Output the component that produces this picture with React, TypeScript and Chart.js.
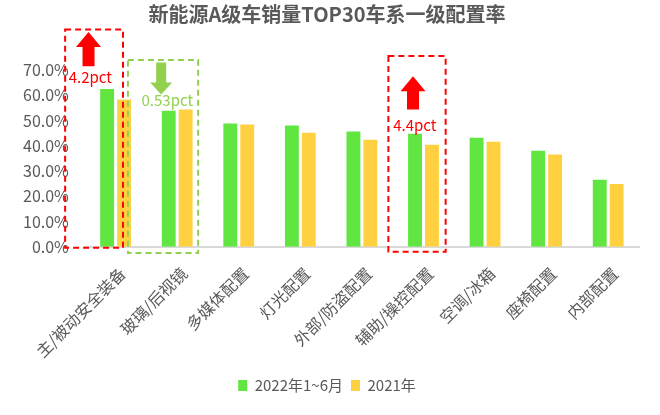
import { useEffect, useRef } from 'react';
import { Chart, registerables, Plugin } from 'chart.js';

Chart.register(...registerables);

// data (percent)
const categories = ['主/被动安全装备', '玻璃/后视镜', '多媒体配置', '灯光配置', '外部/防盗配置', '辅助/操控配置', '空调/冰箱', '座椅配置', '内部配置'];
const rate2022H1 = [62.5, 53.9, 48.8, 48.0, 45.6, 44.8, 43.2, 38.0, 26.5];
const rate2021 = [58.3, 54.4, 48.4, 45.2, 42.4, 40.4, 41.6, 36.5, 24.9];
const seriesNames = ['2022年1~6月', '2021年'];
const yTicks = [0, 10, 20, 30, 40, 50, 60, 70];

// call-outs
const changeLabels = ['4.2pct', '0.53pct', '4.4pct'];
const changeCategories = [0, 1, 5];
const changeDirections = ['up', 'down', 'up'];

// call-out geometry: x in category units from the category centre, y in axis values
const calloutLayout = [
  { color: '#FF0000', box: [-0.82, 0.12, 86, -0.4], arrow: [-0.44, 85, 71.5, 12, 25, 15], text: [-0.41, 67] },
  { color: '#92D050', box: [-0.8, 0.34, 74, -2.5], arrow: [-0.26, 73, 60.3, 10, 22, 12], text: [-0.16, 58] },
  { color: '#FF0000', box: [-0.57, 0.36, 75.5, -2], arrow: [-0.17, 67.5, 54.4, 12, 25, 15], text: [-0.14, 48] },
];

const FONT = "'Noto Sans CJK SC', 'Noto Sans', sans-serif";
const GREEN = '#60E541';
const YELLOW = '#FFD141';
const GREY = '#595959';

const calloutPlugin: Plugin<'bar'> = {
  id: 'callouts',
  afterDraw(chart) {
    const { ctx } = chart;
    const xs = chart.scales.x;
    const ys = chart.scales.y;
    ctx.save();
    calloutLayout.forEach((c, i) => {
      const cat = changeCategories[i];
      const px = (o: number) => xs.getPixelForValue(cat + o);
      // dashed box
      ctx.setLineDash([6, 4]);
      ctx.lineWidth = 2;
      ctx.strokeStyle = c.color;
      const [bx0, bx1, by0, by1] = c.box;
      ctx.strokeRect(px(bx0), ys.getPixelForValue(by0), px(bx1) - px(bx0), ys.getPixelForValue(by1) - ys.getPixelForValue(by0));
      ctx.setLineDash([]);
      // block arrow
      const [ax, aTop, aBottom, shaftW, headW, headH] = c.arrow;
      const cx = px(ax);
      const yTop = ys.getPixelForValue(aTop);
      const yBot = ys.getPixelForValue(aBottom);
      ctx.fillStyle = c.color;
      ctx.beginPath();
      if (changeDirections[i] === 'up') {
        ctx.moveTo(cx, yTop);
        ctx.lineTo(cx + headW / 2, yTop + headH);
        ctx.lineTo(cx + shaftW / 2, yTop + headH);
        ctx.lineTo(cx + shaftW / 2, yBot);
        ctx.lineTo(cx - shaftW / 2, yBot);
        ctx.lineTo(cx - shaftW / 2, yTop + headH);
        ctx.lineTo(cx - headW / 2, yTop + headH);
      } else {
        ctx.moveTo(cx, yBot);
        ctx.lineTo(cx + headW / 2, yBot - headH);
        ctx.lineTo(cx + shaftW / 2, yBot - headH);
        ctx.lineTo(cx + shaftW / 2, yTop);
        ctx.lineTo(cx - shaftW / 2, yTop);
        ctx.lineTo(cx - shaftW / 2, yBot - headH);
        ctx.lineTo(cx - headW / 2, yBot - headH);
      }
      ctx.closePath();
      ctx.fill();
      // label
      ctx.font = `15px ${FONT}`;
      ctx.textAlign = 'center';
      ctx.textBaseline = 'middle';
      ctx.fillText(changeLabels[i], px(c.text[0]), ys.getPixelForValue(c.text[1]));
    });
    ctx.restore();
  },
};

const App = () => {
  const canvasRef = useRef<HTMLCanvasElement | null>(null);

  useEffect(() => {
    if (!canvasRef.current) return;
    const chart = new Chart(canvasRef.current, {
      type: 'bar',
      data: {
        labels: categories,
        datasets: [
          { label: seriesNames[0], data: rate2022H1, backgroundColor: GREEN },
          { label: seriesNames[1], data: rate2021, backgroundColor: YELLOW },
        ],
      },
      options: {
        animation: false,
        responsive: true,
        maintainAspectRatio: false,
        datasets: { bar: { categoryPercentage: 0.55, barPercentage: 0.82 } },
        layout: { padding: { left: 15, right: 21, top: 0, bottom: 12 } },
        plugins: {
          title: {
            display: true,
            text: '新能源A级车销量TOP30车系一级配置率',
            color: GREY,
            font: { family: FONT, size: 20, weight: 'bold' },
            padding: { top: 2, bottom: 44 },
          },
          legend: {
            position: 'bottom',
            labels: {
              color: GREY,
              font: { family: FONT, size: 15 },
              boxWidth: 9,
              boxHeight: 11,
              padding: 8,
            },
          },
          tooltip: { enabled: false },
        },
        scales: {
          x: {
            grid: { display: false },
            border: { color: '#D9D9D9', width: 2 },
            ticks: {
              color: GREY,
              font: { family: FONT, size: 16 },
              minRotation: 45,
              maxRotation: 45,
              autoSkip: false,
              labelOffset: 7,
              padding: 9,
            },
          },
          y: {
            min: yTicks[0],
            max: yTicks[yTicks.length - 1],
            grid: { display: false },
            border: { display: false },
            afterBuildTicks: (axis) => {
              axis.ticks = yTicks.map((v) => ({ value: v }));
            },
            ticks: {
              color: GREY,
              font: { family: FONT, size: 16 },
              padding: 8,
              callback: (v) => `${Number(v).toFixed(1)}%`,
            },
          },
        },
      },
      plugins: [calloutPlugin],
    });
    return () => chart.destroy();
  }, []);

  return (
    <div style={{ position: 'fixed', left: 0, top: 0, width: 660, height: 415, background: '#fff' }}>
      <canvas ref={canvasRef} />
    </div>
  );
};

export default App;
